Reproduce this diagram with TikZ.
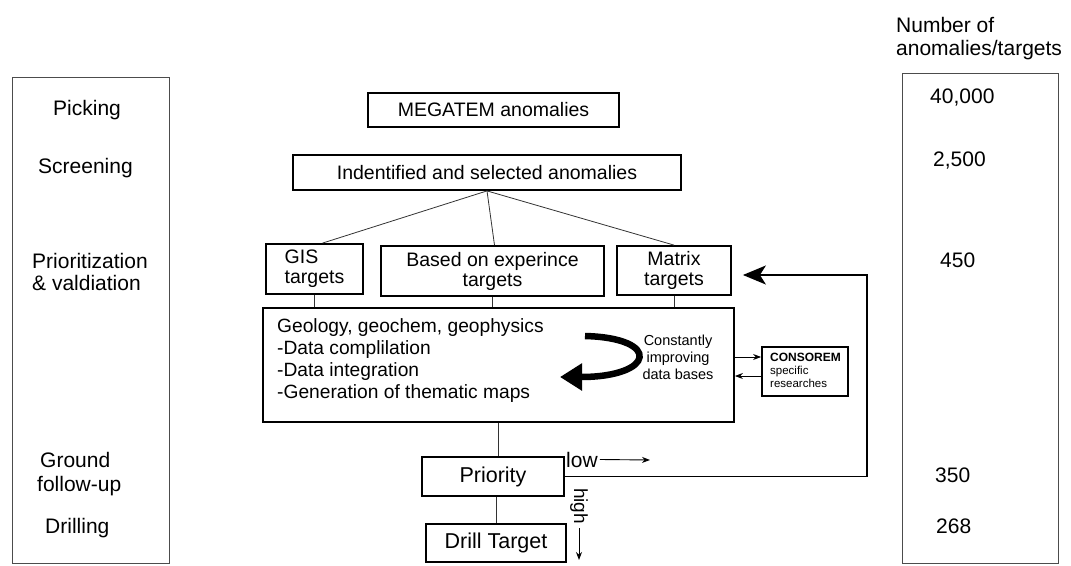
\documentclass[tikz,border=0pt]{standalone}
\usepackage{fontspec}
\setmainfont{Liberation Sans}
\usetikzlibrary{arrows.meta,calc}
\begin{document}
\begin{tikzpicture}[x=1pt,y=-1pt,
  box/.style={draw, line width=1.8pt, inner sep=0pt, align=center, font=\fontsize{19.5}{20}\selectfont},
  panel/.style={draw=black!70, line width=1.2pt, inner sep=0pt},
  conn/.style={line width=0.8pt, draw=black!80},
  side/.style={inner sep=0pt, anchor=base west, font=\fontsize{21}{21}\selectfont},
  inner/.style={inner sep=0pt, anchor=base west, font=\fontsize{19.2}{20}\selectfont},
  small/.style={inner sep=0pt, anchor=base, font=\fontsize{14.5}{15}\selectfont},
  tiny/.style={inner sep=0pt, anchor=base west, font=\fontsize{11.5}{12}\selectfont},
  thin/.style={line width=0.9pt, -{Stealth[length=8pt,width=6pt]}},
  fb/.style={line width=1.8pt, -{Stealth[length=23pt,width=19pt,inset=6pt]}},
  big arrow/.style={line width=6.5pt, -{Triangle[length=22pt,width=26pt]}}
]
\useasboundingbox (0,0) rectangle (1071,565);

% side panels
\node[panel, minimum width=157pt, minimum height=486pt, anchor=north west] (lpanel) at (12,77) {};
\node[panel, minimum width=156pt, minimum height=490pt, anchor=north west] (rpanel) at (902,73) {};

% left labels
\node[side] (l1) at (53,115) {Picking};
\node[side] (l2) at (38,173) {Screening};
\node[side] (l3) at (32,268) {Prioritization};
\node[side] (l4) at (32,290) {\& valdiation};
\node[side] (l5) at (40,467) {Ground};
\node[side] (l6) at (37,491) {follow-up};
\node[side] (l7) at (45,533) {Drilling};

% right labels
\node[side] (r0) at (896,32) {Number of};
\node[side] (r00) at (896,55) {anomalies/targets};
\node[side] (r1) at (930,103) {40,000};
\node[side] (r2) at (933,166) {2,500};
\node[side] (r3) at (940,267) {450};
\node[side] (r4) at (935,482) {350};
\node[side] (r5) at (936,533) {268};

% main boxes
\node[box, minimum width=251pt, minimum height=34pt] (mega) at (493.5,110) {MEGATEM anomalies};
\node[box, minimum width=388pt, minimum height=35pt] (ident) at (487,172.5) {Indentified and selected anomalies};
\node[box, align=left, minimum width=97pt, minimum height=50pt] (gis) at (314.5,269) {GIS\\targets};
\node[box, minimum width=223pt, minimum height=50pt] (based) at (492.5,271) {Based on experince\\targets};
\node[box, minimum width=114pt, minimum height=49pt] (matrix) at (674,270.5) {Matrix\\targets};
\node[box, minimum width=471pt, minimum height=114pt] (big) at (498.5,365) {};
\node[box, minimum width=86pt, minimum height=49pt] (cons) at (805,371.5) {};
\node[box, font=\fontsize{21.5}{22}\selectfont, minimum width=142pt, minimum height=39pt] (prio) at (493,476.5) {Priority};
\node[box, font=\fontsize{21.5}{22}\selectfont, minimum width=140pt, minimum height=38pt] (drill) at (496,543) {Drill Target};

% big box text
\node[inner] (t1) at (277,332) {Geology, geochem, geophysics};
\node[inner] (t2) at (277,354) {-Data complilation};
\node[inner] (t3) at (277,376) {-Data integration};
\node[inner] (t4) at (277,398) {-Generation of thematic maps};

\node[small] (c1) at (678,345) {Constantly};
\node[small] (c2) at (678,362) {improving};
\node[small] (c3) at (678,379) {data bases};

% CONSOREM text
\node[tiny, font=\bfseries\fontsize{12}{12}\selectfont] (k1) at (770,361) {CONSOREM};
\node[tiny] (k2) at (770,374) {specific};
\node[tiny] (k3) at (770,387) {researches};

% connectors
\draw[conn] (ident.south) -- ($(gis.north)+(8,0)$);
\draw[conn] (ident.south) -- ($(based.north)+(2,0)$);
\draw[conn] (ident.south) -- (matrix.north);
\draw[conn] (gis.south) -- (gis.south |- big.north);
\draw[conn] (based.south) -- (based.south |- big.north);
\draw[conn] (matrix.south) -- (matrix.south |- big.north);
\draw[conn] (big.south) -- (big.south |- prio.north);
\draw[conn] (drill.north |- prio.south) -- (drill.north);

% CONSOREM arrows
\draw[thin] ($(big.east)+(0,-8)$) -- ($(cons.west)+(0,-14.5)$);
\draw[thin] ($(cons.west)+(0,4.5)$) -- ($(big.east)+(0,11)$);

% curved arrow
\draw[big arrow] (585,336) .. controls (662,338) and (655,377) .. (560,377);

% low / high
\node[inner sep=0pt, anchor=base west, font=\fontsize{21}{21}\selectfont] (low) at (566,467) {low};
\coordinate (lowend) at (650,460);
\draw[thin] ([xshift=2pt]low.east) -- (lowend);
\node[inner sep=0pt, rotate=-90, font=\fontsize{19}{19}\selectfont] (high) at (579,506) {high};
\coordinate (highend) at (579,560);
\draw[thin] ($(high.east)+(0,4)$) -- (highend);

% feedback loop
\coordinate (fbc) at (867,275);
\coordinate (fbend) at ($(matrix.east)+(11,4.5)$);
\draw[fb] (prio.east) -| (fbc) -- (fbend);
\end{tikzpicture}
\end{document}
